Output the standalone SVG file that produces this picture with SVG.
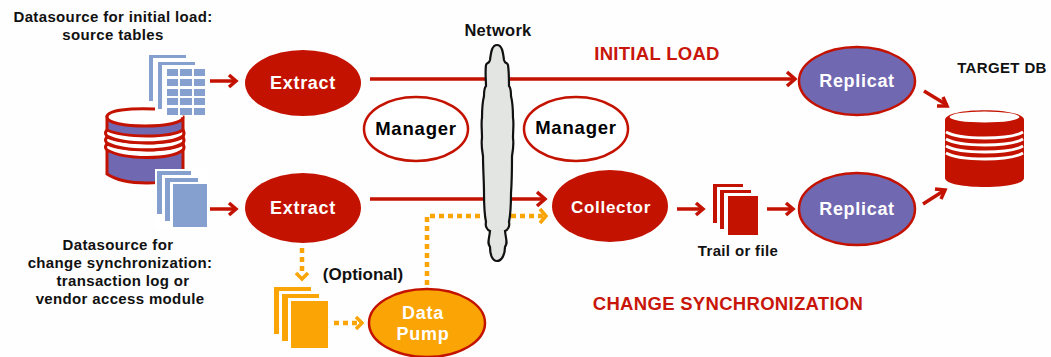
<svg xmlns="http://www.w3.org/2000/svg" width="1051" height="357" viewBox="0 0 1051 357">
<style>
text{font-family:"Liberation Sans",Arial,sans-serif;font-weight:bold;text-anchor:middle;fill:#111}
.s{font-size:15px;letter-spacing:.35px}
.w{fill:#fff;font-size:18px;letter-spacing:.7px}
.m{font-size:18.500px;letter-spacing:.8px;fill:#000}
.t{font-size:18.500px;letter-spacing:.3px;fill:#c8160a}
.red{fill:#c41200}
.pur{fill:#7068b0;stroke:#c41200;stroke-width:2.5}
.mgr{fill:#fff;stroke:#c41200;stroke-width:2.5}
.c{fill:none;stroke:#c41200;stroke-width:3.5}
.ch{fill:none;stroke:#c41200;stroke-width:3.5}
.d{fill:none;stroke:#faa505;stroke-width:4.5;stroke-dasharray:5 4}
.dh{fill:none;stroke:#faa505;stroke-width:3.5}
.b{fill:#85a0cf}
.o{fill:#faa505}
.ring{fill:#fff;stroke:#c41200;stroke-width:3}
.tr{fill:none;stroke:#fff;stroke-width:2.800}
</style>
<rect width="1051" height="357" fill="#fefefe"/>
<g id="connectors">
<path class="c" d="M370 79H485M510 79H794"/><path class="ch" d="M787 72l8 7-8 7"/>
<path class="c" d="M370 199H485M510 199H544"/><path class="ch" d="M537 192l8 7-8 7"/>
<path class="c" d="M210 81H236"/><path class="ch" d="M229 75l7 6-7 6"/>
<path class="c" d="M210 209H236"/><path class="ch" d="M229 203l7 6-7 6"/>
<path class="c" d="M677 209H703"/><path class="ch" d="M696 203l7 6-7 6"/>
<path class="c" d="M767 209H793"/><path class="ch" d="M786 203l7 6-7 6"/>
<path class="c" d="M924 91L947 105"/><path class="ch" d="M937 106l10 0-4-9"/>
<path class="c" d="M923 204L945 190"/><path class="ch" d="M935 189l10 1-4 9"/>
<path class="d" d="M427 285V216H546"/><path class="dh" d="M540 209l6 7-6 7"/>
<path class="d" d="M302 248V271"/><path class="dh" d="M296 273l6 6 6-6"/>
<path class="d" d="M334 323H357"/><path class="dh" d="M356 317l6 6-6 6"/>
</g>
<g id="network"><path d="M497 45C492 45 491 52 490 60C489 64 487 62 486 65C485 72 486 80 486 86C484 88 484 92 484 96C483 100 482 110 482 118C481 122 482 130 482 138C481 145 482 150 483 156C483 170 484 180 484 193C484 205 484 212 486 222C485 226 487 230 490 231C489 240 487 243 490 247C490 254 492 261 497 261C502 261 505 254 505 247C508 243 506 240 505 231C508 230 510 226 509 222C511 212 511 205 511 193C512 180 512 170 512 156C513 150 514 145 513 138C513 130 514 122 513 118C513 110 512 100 511 96C511 92 511 88 509 86C509 80 509 72 508 65C507 62 505 64 504 60C503 52 502 45 497 45Z" fill="#e2e5e1" stroke="#111" stroke-width="2.200"/>
<text x="498" y="36" style="font-size:16.500px;letter-spacing:.3px">Network</text></g>
<g id="source-db">
<path d="M107 117V174C125 186 170 186 183 174V117Z" fill="#7068b0" stroke="#c41200" stroke-width="3"/>
<path class="ring" d="M107 150C125 160 170 160 183 150C185 148 184 146 183 144C170 152 125 152 107 144C105 146 105 148 107 150Z"/>
<path class="ring" d="M107 143C125 152 170 152 183 143C185 141 184 139 183 137C170 145 125 145 107 137C105 139 105 141 107 143Z"/>
<path class="ring" d="M107 136C125 145 170 145 183 136C185 134 184 132 183 130C170 138 125 138 107 130C105 132 105 134 107 136Z"/>
<path d="M107 117C107 109 130 108 155 109C170 110 183 112 183 117C183 122 165 126 145 126C125 126 107 123 107 117Z" fill="#fff"/>
<path d="M155 109C130 108 107 110 107 117C107 123 125 126 145 126C165 126 183 123 183 117" fill="none" stroke="#c41200" stroke-width="3"/>
</g>
<g id="source-tables">
<path class="b" d="M149 55H186V58H153V101H149Z"/>
<path class="b" d="M158 62H195V65H162V109H158Z"/>
<g class="b"><rect x="167" y="69" width="11" height="7"/><rect x="180" y="69" width="12" height="7"/><rect x="194" y="69" width="11" height="7"/><rect x="167" y="79" width="11" height="7"/><rect x="180" y="79" width="12" height="7"/><rect x="194" y="79" width="11" height="7"/><rect x="167" y="89" width="11" height="7"/><rect x="180" y="89" width="12" height="7"/><rect x="194" y="89" width="11" height="7"/><rect x="167" y="98" width="11" height="7"/><rect x="180" y="98" width="12" height="7"/><rect x="194" y="98" width="11" height="7"/><rect x="167" y="108" width="11" height="7"/><rect x="180" y="108" width="12" height="7"/><rect x="194" y="108" width="11" height="7"/></g>
</g>
<g id="source-log">
<path fill="#fff" d="M155 169H209V229H155Z"/>
<path class="b" d="M157 171H191V175H162V214H157Z"/>
<path class="b" d="M165 178H198V182H170V221H165Z"/>
<rect class="b" x="173" y="184" width="34" height="43"/>
</g>
<g id="extract-1"><ellipse class="red" cx="303" cy="83" rx="58" ry="33"/><text class="w" x="303" y="89">Extract</text></g>
<g id="extract-2"><ellipse class="red" cx="303" cy="208" rx="58" ry="35"/><text class="w" x="303" y="214">Extract</text></g>
<g id="manager-1"><ellipse class="mgr" cx="416" cy="129" rx="52" ry="32"/><text class="m" x="416" y="135">Manager</text></g>
<g id="manager-2"><ellipse class="mgr" cx="576" cy="129" rx="52" ry="32"/><text class="m" x="576" y="134">Manager</text></g>
<g id="collector"><ellipse class="red" cx="610" cy="206" rx="58" ry="36"/><text class="w" x="611" y="213" style="font-size:17px">Collector</text></g>
<g id="replicat-1"><ellipse class="pur" cx="857" cy="81" rx="58" ry="34"/><text class="w" x="857" y="87">Replicat</text></g>
<g id="replicat-2"><ellipse class="pur" cx="857" cy="209" rx="58" ry="36"/><text class="w" x="857" y="215">Replicat</text></g>
<g id="trail">
<path class="red" d="M713 184H743V187H717V223H713Z"/><path class="red" d="M720 190H751V193H724V229H720Z"/><rect class="red" x="728" y="196" width="30" height="39"/>
</g>
<g id="target-db">
<path class="red" d="M945 120C945 107 1024 107 1024 120V178C1024 190 945 190 945 178Z"/>
<ellipse cx="984.500" cy="117" rx="35" ry="5.500" fill="#fff"/>
<path class="tr" d="M946 132C960 140 1010 140 1023 132"/>
<path class="tr" d="M946 139C960 147 1010 147 1023 139"/>
<path class="tr" d="M946 146C960 154 1010 154 1023 146"/>
<path class="tr" d="M946 153C960 161 1010 161 1023 153"/>
</g>
<g id="pump-files">
<path class="o" d="M274 287H311V291H279V334H274Z"/><path class="o" d="M282 294H319V298H288V341H282Z"/><rect class="o" x="291" y="301" width="37" height="47"/>
</g>
<g id="data-pump"><ellipse cx="427" cy="323" rx="58" ry="34" fill="#faa505" stroke="#c41200" stroke-width="2.500"/><text class="w" x="423" y="319">Data</text><text class="w" x="423" y="340">Pump</text></g>
<g id="labels">
<text class="s" x="113" y="22">Datasource for initial load:</text><text class="s" x="113" y="40">source tables</text>
<text class="s" x="118" y="250">Datasource for</text><text class="s" x="120" y="268">change synchronization:</text><text class="s" x="123" y="286">transaction log or</text><text class="s" x="120" y="304">vendor access module</text>
<text class="t" x="657" y="60">INITIAL LOAD</text>
<text class="t" x="728" y="310">CHANGE SYNCHRONIZATION</text>
<text class="s" x="1002" y="73">TARGET DB</text>
<text class="s" x="738" y="256">Trail or file</text>
<text x="363" y="280" style="font-size:17px">(Optional)</text>
</g>
</svg>
